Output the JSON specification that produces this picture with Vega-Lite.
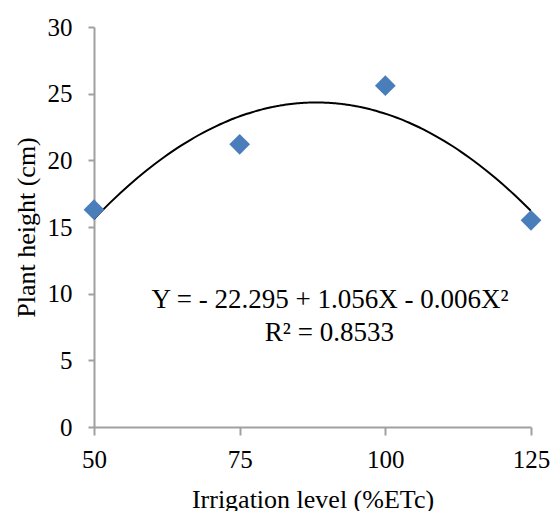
{
  "$schema": "https://vega.github.io/schema/vega-lite/v6.json",
  "width": 437,
  "height": 400,
  "autosize": {"type": "none"},
  "padding": {"left": 94, "top": 27, "right": 21, "bottom": 84},
  "background": "white",
  "config": {
    "view": {"stroke": null},
    "font": "Liberation Serif",
    "axis": {
      "grid": false,
      "domainColor": "#A0A0A0",
      "domainWidth": 2,
      "tickColor": "#A0A0A0",
      "tickWidth": 2,
      "tickSize": 6,
      "labelFont": "Liberation Serif",
      "labelFontSize": 25,
      "labelColor": "black",
      "labelFlush": false,
      "labelOverlap": false,
      "titleFont": "Liberation Serif",
      "titleFontSize": 26,
      "titleFontWeight": "normal",
      "titleColor": "black"
    }
  },
  "datasets": {
    "obs": [
      {"irrigation": 50, "height": 16.3},
      {"irrigation": 75, "height": 21.2},
      {"irrigation": 100, "height": 25.6},
      {"irrigation": 125, "height": 15.5}
    ],
    "notes": [
      {"irrigation": 90.5, "height": 9.55, "label": "Y = - 22.295 + 1.056X - 0.006X²"},
      {"irrigation": 90.4, "height": 7.05, "label": "R² = 0.8533"}
    ]
  },
  "layer": [
    {
      "data": {"name": "obs"},
      "transform": [
        {"regression": "height", "on": "irrigation", "method": "poly", "order": 2, "extent": [50, 125]}
      ],
      "mark": {"type": "line", "color": "black", "strokeWidth": 2, "interpolate": "monotone", "clip": true},
      "encoding": {
        "x": {"field": "irrigation", "type": "quantitative"},
        "y": {"field": "height", "type": "quantitative"}
      }
    },
    {
      "data": {"name": "obs"},
      "mark": {"type": "point", "shape": "diamond", "filled": true, "color": "#4A7EBB", "opacity": 1, "size": 430},
      "encoding": {
        "x": {
          "field": "irrigation", "type": "quantitative",
          "scale": {"domain": [50, 125], "nice": false, "zero": false},
          "axis": {"values": [50, 75, 100, 125], "title": "Irrigation level (%ETc)", "labelPadding": 12, "titlePadding": 14, "tickSize": 8}
        },
        "y": {
          "field": "height", "type": "quantitative",
          "scale": {"domain": [0, 30], "nice": false},
          "axis": {"values": [0, 5, 10, 15, 20, 25, 30], "title": "Plant height (cm)", "labelPadding": 16, "titlePadding": 8}
        }
      }
    },
    {
      "data": {"name": "notes"},
      "mark": {"type": "text", "font": "Liberation Serif", "fontSize": 27, "color": "black", "align": "center", "baseline": "middle"},
      "encoding": {
        "x": {"field": "irrigation", "type": "quantitative"},
        "y": {"field": "height", "type": "quantitative"},
        "text": {"field": "label"}
      }
    }
  ]
}
